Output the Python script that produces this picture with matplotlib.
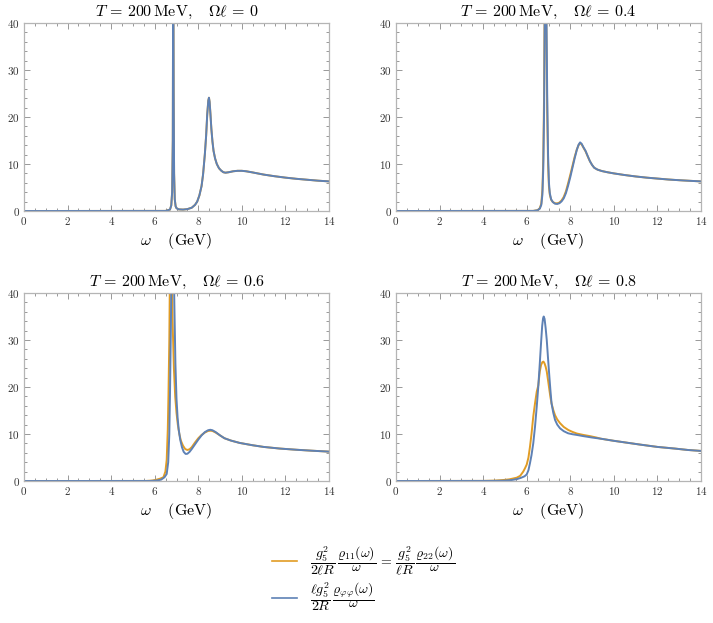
import numpy as np
import matplotlib
matplotlib.use("Agg")
import matplotlib.pyplot as plt
from matplotlib.lines import Line2D
from matplotlib.ticker import MultipleLocator, FuncFormatter

plt.rcParams['mathtext.fontset'] = 'cm'
plt.rcParams['font.family'] = 'serif'

# rotation values shown in the panel titles
omega_l = ['0', '0.4', '0.6', '0.8']

# --- Omega*l = 0 (both curves coincide) ---
w_a = [0, 6.5, 6.7, 6.76, 6.8, 6.83, 6.85, 6.87, 6.89, 6.92, 6.96, 7.0, 7.1, 7.3, 7.5, 7.7,
       7.85, 7.95, 8.05, 8.15, 8.22, 8.3, 8.36, 8.41, 8.46, 8.49, 8.52, 8.56, 8.6, 8.65, 8.7,
       8.77, 8.85, 8.95, 9.05, 9.15, 9.25, 9.4, 9.6, 9.8, 10.0, 10.2, 10.5, 11.0, 11.5, 12.0,
       12.5, 13.0, 13.5, 14.0]
blue_a = [0, 0.02, 0.3, 1.2, 4, 15, 60, 25, 8, 2.5, 1.0, 0.6, 0.35, 0.3, 0.4, 0.7,
          1.3, 2.0, 3.3, 5.3, 7.8, 12, 16, 20.5, 23.5, 24.1, 23.2, 20.5, 17.5, 14.8, 12.8,
          11.2, 10.0, 9.1, 8.6, 8.25, 8.15, 8.25, 8.45, 8.55, 8.55, 8.45, 8.2, 7.75, 7.4, 7.1,
          6.85, 6.65, 6.45, 6.3]
orange_a = blue_a

# --- Omega*l = 0.4 ---
w_b = [0, 6.3, 6.5, 6.6, 6.67, 6.72, 6.76, 6.8, 6.83, 6.86, 6.9, 6.94, 6.98, 7.02, 7.06,
       7.12, 7.2, 7.3, 7.4, 7.5, 7.6, 7.7, 7.8, 7.9, 8.0, 8.1, 8.2, 8.3, 8.38, 8.45, 8.52,
       8.6, 8.7, 8.8, 8.9, 9.0, 9.1, 9.25, 9.45, 9.7, 10.0, 10.5, 11.0, 11.5, 12.0, 12.5,
       13.0, 13.5, 14.0]
blue_b = [0, 0.02, 0.15, 0.5, 1.3, 3.5, 9, 22, 45, 60, 45, 25, 12, 6, 3.8,
          2.5, 1.9, 1.55, 1.5, 1.65, 2.05, 2.7, 3.8, 5.4, 7.2, 9.2, 11.2, 13.0, 14.1, 14.6, 14.3,
          13.6, 12.8, 11.7, 10.6, 9.8, 9.2, 8.8, 8.5, 8.25, 8.0, 7.65, 7.35, 7.1, 6.9, 6.7,
          6.55, 6.42, 6.3]
orange_b = [0, 0.02, 0.18, 0.6, 1.6, 4.5, 11, 26, 50, 55, 40, 21, 10, 5.2, 3.5,
            2.4, 1.9, 1.65, 1.62, 1.8, 2.25, 3.0, 4.2, 5.9, 7.7, 9.6, 11.5, 13.1, 14.0, 14.4, 14.2,
            13.5, 12.7, 11.6, 10.6, 9.8, 9.2, 8.8, 8.5, 8.25, 8.0, 7.65, 7.35, 7.1, 6.9, 6.7,
            6.55, 6.42, 6.3]

# --- Omega*l = 0.6 ---
w_c_blue = [0, 5.8, 6.1, 6.3, 6.45, 6.55, 6.62, 6.67, 6.7, 6.74, 6.77, 6.82, 6.87, 6.9, 6.95,
            7.0, 7.05, 7.1, 7.17, 7.25, 7.33, 7.42, 7.5, 7.6, 7.7, 7.85, 8.0, 8.15, 8.3, 8.45,
            8.55, 8.65, 8.8, 9.0, 9.2, 9.5, 9.9, 10.5, 11.0, 11.75, 12.5, 13.2, 14.0]
blue_c = [0, 0.01, 0.1, 0.3, 0.8, 1.5, 4, 10, 18, 32, 45, 60, 48, 38, 25,
          17.5, 13.5, 11, 8.8, 7.2, 6.2, 5.75, 5.8, 6.2, 6.8, 7.8, 8.8, 9.7, 10.4, 10.8,
          10.9, 10.8, 10.4, 9.7, 9.1, 8.6, 8.1, 7.6, 7.25, 6.9, 6.65, 6.45, 6.25]
w_c_orange = [0, 5.6, 5.9, 6.1, 6.25, 6.4, 6.49, 6.55, 6.6, 6.63, 6.67, 6.71, 6.74, 6.78, 6.82,
              6.88, 6.94, 7.0, 7.06, 7.13, 7.2, 7.3, 7.4, 7.5, 7.6, 7.7, 7.85, 8.0, 8.15, 8.3,
              8.45, 8.55, 8.65, 8.8, 9.0, 9.2, 9.5, 9.9, 10.5, 11.0, 11.75, 12.5, 13.2, 14.0]
orange_c = [0, 0.01, 0.1, 0.3, 0.5, 0.8, 2.0, 4.5, 11, 18, 30, 50, 58, 45, 34,
            24, 18, 14.5, 12, 10, 8.6, 7.5, 6.8, 6.6, 6.75, 7.2, 8.2, 9.1, 9.8, 10.3,
            10.65, 10.7, 10.65, 10.3, 9.7, 9.1, 8.6, 8.1, 7.6, 7.25, 6.9, 6.65, 6.45, 6.25]

# --- Omega*l = 0.8 ---
w_d_blue = [0, 4.5, 5.0, 5.3, 5.55, 5.75, 5.9, 6.0, 6.08, 6.15, 6.22, 6.3, 6.38, 6.46, 6.53,
            6.6, 6.66, 6.71, 6.75, 6.78, 6.82, 6.87, 6.92, 6.98, 7.04, 7.09, 7.14, 7.22, 7.3,
            7.4, 7.53, 7.7, 7.9, 8.1, 8.3, 8.6, 9.0, 9.4, 10.0, 10.6, 11.2, 12.0, 12.8, 13.4, 14.0]
blue_d = [0, 0.02, 0.08, 0.2, 0.4, 0.7, 1.0, 1.4, 2.3, 3.8, 5.5, 8.0, 11.5, 15.8, 20,
          25, 29.5, 33, 34.6, 35.0, 34.5, 32.5, 30, 26, 22.2, 19.2, 16.5, 14.5, 13.0,
          12.0, 11.2, 10.6, 10.15, 9.95, 9.8, 9.55, 9.25, 9.0, 8.55, 8.15, 7.75, 7.25, 6.9, 6.6, 6.4]
w_d_orange = [0, 4.0, 4.5, 4.9, 5.2, 5.54, 5.7, 5.84, 5.92, 6.0, 6.08, 6.15, 6.22, 6.3, 6.38,
              6.46, 6.53, 6.6, 6.66, 6.72, 6.77, 6.82, 6.87, 6.92, 6.98, 7.04, 7.09, 7.14, 7.22,
              7.3, 7.4, 7.53, 7.7, 7.91, 8.1, 8.3, 8.6, 8.9, 9.2, 9.4, 10.0, 10.6, 11.2, 12.0,
              12.8, 13.4, 14.0]
orange_d = [0, 0.02, 0.08, 0.2, 0.35, 0.7, 1.1, 2.0, 2.7, 3.5, 5.0, 7.3, 10, 13.7, 16.5,
            19, 20.3, 23.3, 24.7, 25.3, 25.4, 25.0, 24.3, 23.3, 21.4, 19.4, 17.8, 16.5, 15.1,
            14.0, 13.1, 12.3, 11.5, 10.85, 10.45, 10.1, 9.8, 9.55, 9.25, 9.0, 8.55, 8.15, 7.75, 7.25,
            6.9, 6.6, 6.4]

panels = [
    (w_a, orange_a, w_a, blue_a),
    (w_b, orange_b, w_b, blue_b),
    (w_c_orange, orange_c, w_c_blue, blue_c),
    (w_d_orange, orange_d, w_d_blue, blue_d),
]

c_orange = '#E19C24'
c_blue = '#5E81B5'
frame_c = '#b5b5b5'

fig = plt.figure(figsize=(7.13, 6.23), dpi=100)
W, H = 713, 623
boxes = [(24, 23), (396, 23), (24, 293), (396, 293)]
aw, ah = 305, 188

fmt = FuncFormatter(lambda v, p: '$%g$' % v)

for i, (wo, vo, wb, vb) in enumerate(panels):
    x0, y0 = boxes[i]
    ax = fig.add_axes([x0 / W, 1 - (y0 + ah) / H, aw / W, ah / H])
    ax.plot(wo, vo, color=c_orange, lw=1.4)
    ax.plot(wb, vb, color=c_blue, lw=1.4)
    ax.set_xlim(0, 14)
    ax.set_ylim(0, 40)
    ax.xaxis.set_major_locator(MultipleLocator(2))
    ax.xaxis.set_minor_locator(MultipleLocator(0.5))
    ax.yaxis.set_major_locator(MultipleLocator(10))
    ax.yaxis.set_minor_locator(MultipleLocator(2))
    ax.xaxis.set_major_formatter(fmt)
    ax.yaxis.set_major_formatter(fmt)
    ax.tick_params(which='both', direction='in', top=True, right=True,
                   color='#888888', labelsize=8, labelcolor='#333333', width=0.6)
    ax.tick_params(which='major', length=4, pad=3)
    ax.tick_params(which='minor', length=2.2)
    for s in ax.spines.values():
        s.set_color(frame_c)
        s.set_linewidth(0.9)
    ax.set_title(r'$T\, =\, 200\,\mathrm{MeV},\quad \Omega\ell\, =\, %s$' % omega_l[i],
                 fontsize=11.5, pad=5)
    ax.set_xlabel(r'$\omega \quad\; (\mathrm{GeV})$', fontsize=11.5, labelpad=3)

handles = [Line2D([], [], color=c_orange, lw=1.2),
           Line2D([], [], color=c_blue, lw=1.2)]
labels = [r'$\dfrac{g_5^2}{2\ell R}\,\dfrac{\varrho_{11}(\omega)}{\omega}\, =\, \dfrac{g_5^2}{\ell R}\,\dfrac{\varrho_{22}(\omega)}{\omega}$',
          r'$\dfrac{\ell g_5^2}{2R}\,\dfrac{\varrho_{\varphi\varphi}(\omega)}{\omega}$']
fig.legend(handles, labels, loc='upper left', bbox_to_anchor=(0.368, 0.143),
           frameon=False, fontsize=10, handlelength=1.8, handletextpad=0.9,
           labelspacing=0.25, borderpad=0.2)

fig.savefig('out.png', dpi=100)
